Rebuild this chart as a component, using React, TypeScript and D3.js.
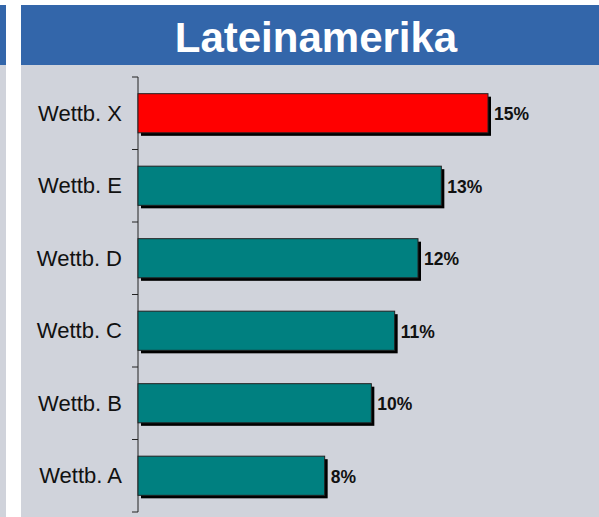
import React from 'react';
import {scaleLinear, scaleBand} from 'd3';

const categories = ['Wettb. X', 'Wettb. E', 'Wettb. D', 'Wettb. C', 'Wettb. B', 'Wettb. A'];
const values = [15, 13, 12, 11, 10, 8];
const labels = ['15%', '13%', '12%', '11%', '10%', '8%'];
const title = 'Lateinamerika';

const W = 599;
const H = 517;
const plot = {l: 138, t: 77, b: 512};

const x = scaleLinear().domain([0, 15]).range([plot.l, 488]);
const y = scaleBand<string>().domain(categories).range([plot.t, plot.b]).paddingInner(0.46).paddingOuter(0.23);
const yTicks = scaleBand<string>().domain(categories).range([plot.t, plot.b]);

export default function App() {
	return (
		<svg width={W} height={H} style={{position: 'absolute', left: 0, top: 0, display: 'block'}}
			fontFamily='Arial, "Liberation Sans", sans-serif'>
			<rect x={0} y={0} width={W} height={H} fill='#fff'/>
			{/* left strip */}
			<rect x={0} y={5} width={6} height={60} fill='#3366aa'/>
			<rect x={0} y={65} width={6} height={H - 65} fill='#d0d3db'/>
			{/* panel */}
			<rect x={21} y={5} width={W - 21} height={60} fill='#3366aa'/>
			<rect x={21} y={65} width={W - 21} height={H - 65} fill='#d0d3db'/>
			<text x={316} y={52} textAnchor='middle' fill='#fff' fontSize={42} fontWeight='bold'>{title}</text>

			{/* axis */}
			<line x1={plot.l} x2={plot.l} y1={plot.t} y2={plot.b} stroke='#222' strokeWidth={1}/>
			{categories.map(c => (
				<line key={'t' + c} x1={plot.l - 6} x2={plot.l} y1={yTicks(c)!} y2={yTicks(c)!} stroke='#222'/>
			))}
			<line x1={plot.l - 6} x2={plot.l} y1={plot.b} y2={plot.b} stroke='#222'/>

			{categories.map((c, i) => {
				const y0 = y(c)!;
				const bh = y.bandwidth();
				const x1 = x(values[i]);
				return (
					<g key={c}>
						<rect x={plot.l + 3} y={y0 + 3} width={x1 - plot.l} height={bh} fill='#000'/>
						<rect x={plot.l} y={y0} width={x1 - plot.l} height={bh}
							fill={i === 0 ? '#ff0000' : '#008080'} stroke='#222' strokeWidth={1}/>
						<text x={x1 + 6} y={y0 + bh / 2 + 7} fontSize={17.5} fontWeight='bold' fill='#111'>{labels[i]}</text>
						<text x={122} y={y0 + bh / 2 + 7.5} fontSize={22} textAnchor='end' fill='#111'>{c}</text>
					</g>
				);
			})}
		</svg>
	);
}
